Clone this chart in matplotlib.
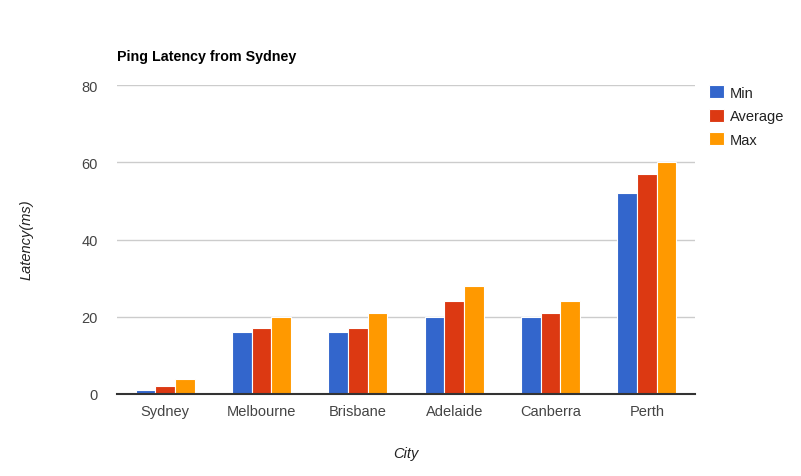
import matplotlib.pyplot as plt
import numpy as np

plt.rcParams['font.family'] = ['Liberation Sans', 'DejaVu Sans']

# data
cities = ['Sydney', 'Melbourne', 'Brisbane', 'Adelaide', 'Canberra', 'Perth']
lat_min = [1, 16, 16, 20, 20, 52]
lat_avg = [2, 17, 17, 24, 21, 57]
lat_max = [4, 20, 21, 28, 24, 60]
series_names = ['Min', 'Average', 'Max']
colors = ['#3366cc', '#dc3912', '#ff9900']
yticks = [0, 20, 40, 60, 80]

fig = plt.figure(figsize=(8.01, 4.77), dpi=100)
ax = fig.add_axes([117 / 801, 82 / 477, 578 / 801, 309 / 477])

x = np.arange(len(cities))
w = 0.205
for i, (vals, name, c) in enumerate(zip([lat_min, lat_avg, lat_max], series_names, colors)):
    ax.bar(x + (i - 1) * w, vals, w, color=c, edgecolor='white', linewidth=0.8,
           label=name, zorder=3)

ax.set_xlim(-0.5, len(cities) - 0.5)
ax.set_ylim(0, 80)
ax.set_yticks(yticks)
ax.set_xticks(x)
ax.set_xticklabels(cities)
ax.tick_params(length=0, labelsize=10.5, colors='#444444')
ax.tick_params(axis='y', pad=14)
ax.tick_params(axis='x', pad=7)
ax.grid(axis='y', color='#cccccc', linewidth=1, zorder=0)

for s in ['top', 'right', 'left']:
    ax.spines[s].set_visible(False)
ax.spines['bottom'].set_color('#333333')
ax.spines['bottom'].set_linewidth(1.5)
ax.spines['bottom'].set_zorder(4)

fig.text(117 / 801, 1 - 57 / 477, 'Ping Latency from Sydney', fontsize=10.3,
         fontweight='bold', va='center', ha='left')
fig.text(406 / 801, 1 - 454 / 477, 'City', fontsize=10.5, style='italic',
         color='#222222', ha='center', va='center')
fig.text(27 / 801, 1 - 240 / 477, 'Latency(ms)', fontsize=10.5, style='italic',
         color='#222222', ha='center', va='center', rotation=90)

leg = ax.legend(loc='upper left', bbox_to_anchor=(709 / 801, 1 - 86 / 477),
                bbox_transform=fig.transFigure, frameon=False, fontsize=10.5,
                handlelength=1.0, handleheight=1.0, handletextpad=0.45,
                labelspacing=0.62, borderaxespad=0, borderpad=0)
for t in leg.get_texts():
    t.set_color('#222222')

plt.savefig('out.png', dpi=100)
